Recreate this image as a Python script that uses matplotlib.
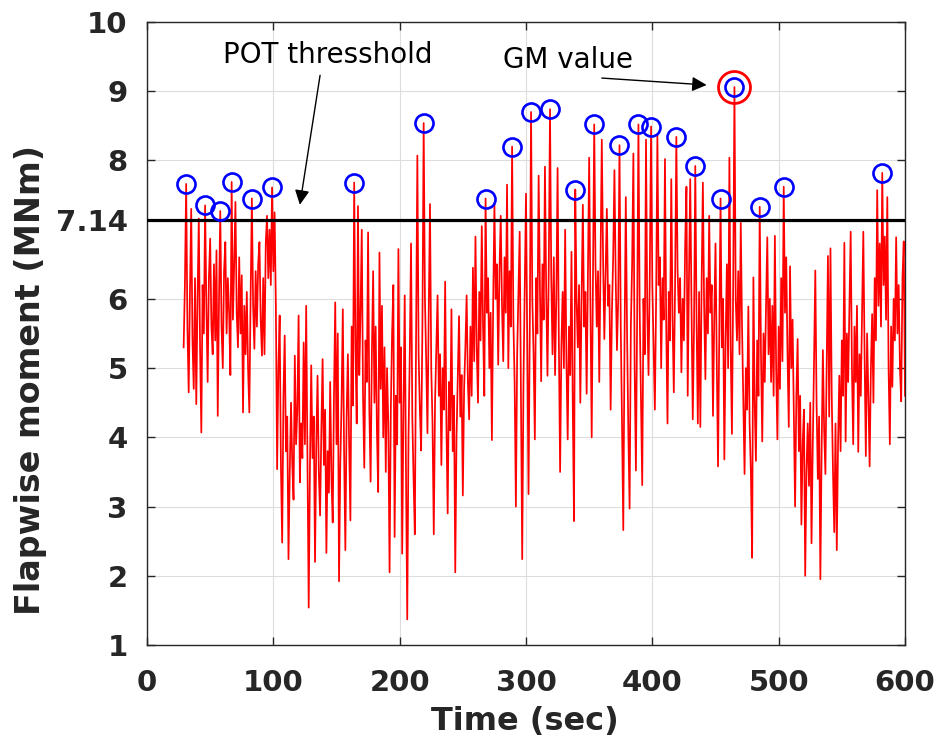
import numpy as np
import matplotlib
matplotlib.use("Agg")
import matplotlib.pyplot as plt

# ---- data ----
t_start = 29  # seconds, one sample per second
moment = [
    5.3,
    6.2, 7.66, 5.6, 4.65, 6.1, 7.3, 5.4, 4.7, 6.3, 4.48,
    6.0, 7.16, 5.3, 4.07, 6.2, 5.5, 7.35, 5.9, 4.8, 6.3,
    6.87, 5.6, 5.2, 6.5, 5.4, 6.7, 4.31, 6.0, 7.27, 5.6,
    5.0, 6.4, 6.82, 5.5, 6.3, 5.8, 4.9, 7.69, 5.7, 6.5,
    7.4, 5.8, 5.3, 6.6, 5.5, 6.34, 4.36, 5.9, 5.2, 6.1,
    5.0, 4.36, 6.0, 7.45, 5.9, 5.28, 6.4, 5.6, 6.5, 6.82,
    5.7, 5.18, 6.3, 5.2, 6.8, 7.2, 6.3, 7.0, 6.2, 7.61,
    6.4, 7.25, 5.9, 3.54, 5.0, 5.76, 3.6, 2.48, 4.6, 5.47,
    3.8, 4.3, 2.24, 3.5, 4.5, 3.6, 3.1, 5.18, 3.9, 4.4,
    5.76, 3.35, 4.2, 3.7, 5.37, 3.9, 5.9, 3.8, 1.54, 3.6,
    5.04, 3.7, 4.3, 2.2, 3.9, 4.89, 3.5, 2.87, 4.1, 5.13,
    3.6, 4.4, 2.33, 3.8, 3.2, 4.8, 3.4, 2.77, 4.6, 5.95,
    3.9, 5.5, 1.92, 3.6, 4.5, 5.85, 3.8, 2.37, 4.3, 5.2,
    3.9, 2.8, 5.6, 4.46, 7.68, 5.3, 4.2, 7.34, 4.9, 5.8,
    7.0, 4.6, 3.56, 5.4, 4.8, 6.96, 4.4, 3.36, 5.2, 6.4,
    4.5, 5.6, 4.1, 3.21, 6.67, 4.7, 5.9, 4.0, 5.3, 3.5,
    5.0, 4.2, 2.05, 4.4, 5.5, 6.2, 2.56, 4.6, 3.9, 6.72,
    4.5, 5.3, 2.32, 4.4, 6.05, 3.5, 1.37, 4.0, 5.2, 6.8,
    4.3, 3.4, 2.6, 5.5, 8.07, 5.2, 4.4, 3.81, 5.6, 8.54,
    6.0, 5.1, 4.06, 5.8, 7.37, 5.0, 4.2, 2.6, 4.5, 5.3,
    6.05, 4.6, 5.2, 3.6, 5.0, 4.4, 6.25, 4.2, 2.9, 4.8,
    4.1, 5.85, 3.8, 4.6, 2.05, 4.0, 4.9, 5.75, 4.3, 4.9,
    3.16, 4.7, 5.3, 6.05, 4.8, 4.26, 5.6, 4.6, 6.45, 5.1,
    6.9, 5.3, 4.5, 6.1, 5.4, 7.05, 5.6, 4.6, 7.45, 5.8,
    6.3, 5.0, 5.8, 3.96, 5.9, 7.37, 6.0, 6.5, 5.05, 6.4,
    7.2, 5.9, 5.1, 6.6, 5.8, 7.65, 5.0, 6.4, 5.6, 8.2,
    5.7, 4.8, 3.0, 5.2, 6.1, 6.97, 4.6, 2.24, 4.8, 6.2,
    7.52, 5.3, 3.18, 5.6, 8.7, 6.0, 5.2, 3.97, 6.3, 5.5,
    7.78, 6.2, 4.81, 6.5, 5.7, 7.91, 6.1, 4.89, 6.4, 8.74,
    6.3, 5.2, 6.6, 4.9, 6.0, 7.89, 5.4, 3.5, 5.3, 6.1,
    5.0, 7.0, 5.1, 3.97, 5.6, 4.9, 6.68, 4.5, 2.79, 7.58,
    6.0, 5.3, 6.2, 4.5, 6.0, 7.36, 5.6, 6.1, 4.63, 6.3,
    8.04, 5.9, 4.0, 6.2, 8.52, 6.5, 5.6, 6.4, 4.8, 6.5,
    8.3, 6.6, 5.42, 6.4, 7.3, 5.9, 6.2, 4.4, 5.8, 6.6,
    7.86, 6.3, 5.26, 6.0, 8.22, 5.6, 4.2, 2.66, 5.4, 7.47,
    5.5, 4.1, 2.97, 5.6, 6.5, 8.1, 5.0, 3.52, 5.8, 8.52,
    5.8, 4.5, 3.31, 6.0, 5.2, 8.3, 5.8, 4.9, 6.4, 8.49,
    6.2, 5.3, 4.4, 6.0, 8.38, 6.2, 6.6, 5.0, 6.3, 5.7,
    8.02, 5.6, 4.2, 6.1, 5.4, 7.73, 5.7, 4.65, 6.2, 8.34,
    6.4, 5.8, 6.3, 4.94, 6.0, 5.4, 6.8, 7.62, 4.6, 6.3,
    7.73, 5.9, 4.26, 5.6, 7.92, 5.7, 4.2, 6.1, 4.15, 6.2,
    7.68, 5.9, 4.84, 6.3, 5.5, 7.2, 5.8, 6.2, 4.31, 5.7,
    6.8, 5.1, 3.58, 5.5, 7.45, 5.3, 6.0, 3.68, 5.4, 6.5,
    5.0, 8.04, 5.3, 4.05, 6.2, 9.06, 6.0, 5.4, 6.4, 5.2,
    7.1, 5.6, 4.5, 3.47, 5.0, 4.4, 5.89, 4.2, 3.5, 2.26,
    6.31, 4.5, 3.66, 5.4, 4.6, 7.33, 5.2, 3.94, 5.5, 4.8,
    5.9, 6.89, 5.2, 6.0, 4.8, 5.9, 4.6, 6.91, 5.0, 3.97,
    5.6, 4.7, 6.3, 5.1, 7.62, 5.8, 6.6, 5.2, 4.15, 6.47,
    5.0, 5.7, 4.3, 3.0, 4.6, 5.42, 3.8, 4.6, 2.74, 3.9,
    4.4, 2.0, 3.5, 4.2, 3.3, 4.5, 2.47, 3.9, 5.1, 6.41,
    4.5, 3.4, 4.3, 1.95, 3.8, 5.26, 4.1, 3.47, 5.0, 6.62,
    4.3, 6.73, 4.6, 3.5, 2.63, 4.2, 2.37, 3.9, 4.89, 3.8,
    5.4, 4.6, 6.81, 3.94, 5.5, 4.8, 5.9, 6.97, 5.0, 3.9,
    5.6, 4.8, 5.9, 3.79, 5.2, 4.6, 5.8, 6.97, 5.2, 3.73,
    5.5, 4.6, 3.58, 5.0, 5.78, 4.5, 6.3, 5.4, 7.57, 5.9,
    6.8, 5.6, 7.82, 6.2, 6.9, 5.7, 7.47, 5.0, 3.9, 5.6,
    4.73, 6.0, 5.4, 6.89, 5.5, 6.2, 5.0, 4.52, 6.3, 6.83, 4.6,
]
threshold = 7.14
peak_times = [31, 46, 58, 67, 83, 99, 164, 219, 268, 289, 304, 319, 339,
              354, 374, 389, 399, 419, 434, 454, 465, 485, 504, 582]
gm_time = 465

x_ticks = [0, 100, 200, 300, 400, 500, 600]
y_ticks = [1, 2, 3, 4, 5, 6, 7.14, 8, 9, 10]
y_ticklabels = ["1", "2", "3", "4", "5", "6", "7.14", "8", "9", "10"]

# ---- derived ----
moment = np.array(moment)
time = t_start + np.arange(len(moment))
pk_idx = [int(t - t_start) for t in peak_times]
gm_idx = int(gm_time - t_start)

fig = plt.figure(figsize=(9.36, 7.36), dpi=100)
ax = fig.add_axes([147/936, 1 - 645/736, 758/936, 623/736])

ax.plot(time, moment, color="#ff0000", lw=1.25, zorder=3)
ax.axhline(threshold, color="black", lw=2.3, zorder=4)
ax.plot(time[pk_idx], moment[pk_idx], linestyle="none", marker="o",
        markersize=13, markerfacecolor="none", markeredgecolor="#0000ff",
        markeredgewidth=1.9, zorder=5)
ax.plot(time[gm_idx], moment[gm_idx], linestyle="none", marker="o",
        markersize=23, markerfacecolor="none", markeredgecolor="#ff0000",
        markeredgewidth=2.0, zorder=5)

ax.set_xlim(0, 600)
ax.set_ylim(1, 10)
ax.set_xticks(x_ticks)
ax.set_yticks(y_ticks)
ax.set_yticklabels(y_ticklabels)
ax.grid(True, color="#dddddd", lw=0.8, zorder=0)
ax.set_axisbelow(True)
for s in ax.spines.values():
    s.set_color("#262626")
    s.set_linewidth(1.0)
ax.tick_params(direction="in", length=6, width=1.0, colors="#262626",
               top=True, right=True, labelsize=21)
ax.tick_params(axis="x", pad=17)
ax.tick_params(axis="y", pad=14)
for lab in ax.get_xticklabels() + ax.get_yticklabels():
    lab.set_fontweight("bold")

ax.set_xlabel("Time (sec)", fontsize=23, fontweight="bold", color="#262626")
ax.set_ylabel("Flapwise moment (MNm)", fontsize=24, fontweight="bold", color="#262626")
ax.xaxis.set_label_coords(0.499, -0.098)
ax.yaxis.set_label_coords(-0.132, 0.425)

ax.text(143, 9.52, "POT thresshold", fontsize=20, ha="center", va="center", color="black")
ax.annotate("", xy=(121, 7.36), xytext=(137, 9.23),
            arrowprops=dict(arrowstyle="-|>", color="black", lw=1.0,
                            mutation_scale=22, shrinkA=0, shrinkB=0))
ax.text(333, 9.45, "GM value", fontsize=20, ha="center", va="center", color="black")
ax.annotate("", xy=(443, 9.09), xytext=(360, 9.19),
            arrowprops=dict(arrowstyle="-|>", color="black", lw=1.0,
                            mutation_scale=22, shrinkA=0, shrinkB=0))

fig.savefig("out.png", dpi=100, facecolor="white")
